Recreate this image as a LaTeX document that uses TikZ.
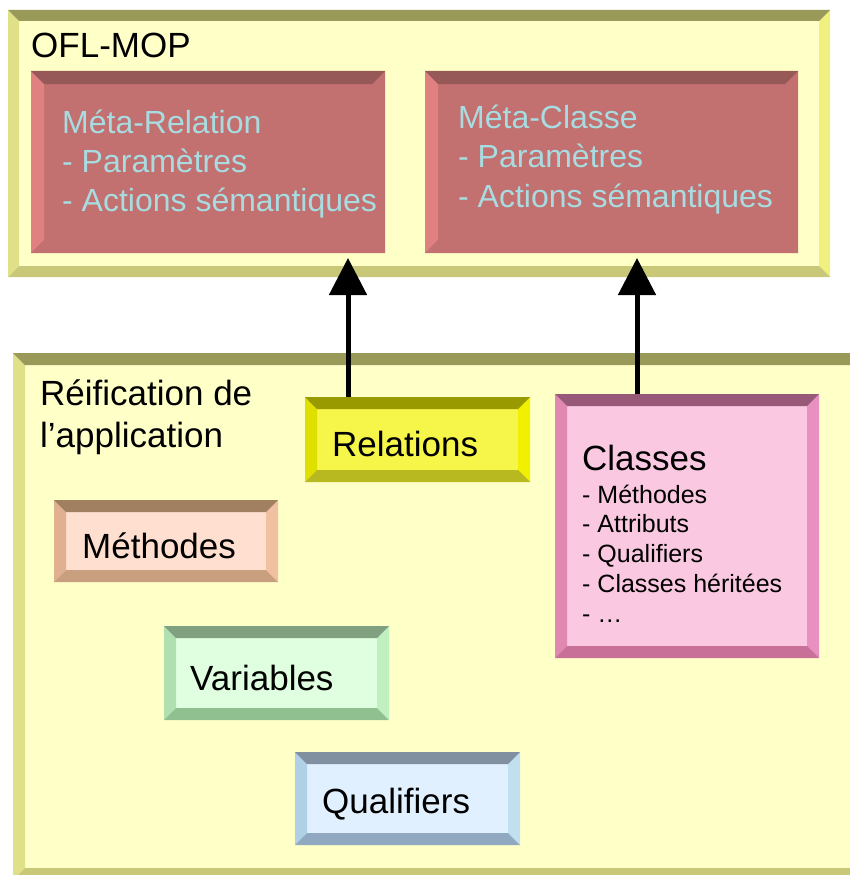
\documentclass[tikz,border=0pt]{standalone}
\usepackage{fontspec}
\setmainfont{Liberation Sans}
\usetikzlibrary{arrows.meta}

% shades: top, left, face, right, bottom
\definecolor{oflTop}{HTML}{99995A}
\definecolor{oflLeft}{HTML}{E0E088}
\definecolor{oflFace}{HTML}{FFFFC8}
\definecolor{oflRight}{HTML}{F0F080}
\definecolor{oflBot}{HTML}{C8C878}
\definecolor{metaTop}{HTML}{975858}
\definecolor{metaLeft}{HTML}{E08080}
\definecolor{metaFace}{HTML}{C27070}
\definecolor{metaText}{HTML}{A8DCE0}
\definecolor{relTop}{HTML}{999900}
\definecolor{relLeft}{HTML}{E0E000}
\definecolor{relFace}{HTML}{F5F54A}
\definecolor{relRight}{HTML}{F0F000}
\definecolor{relBot}{HTML}{B8B820}
\definecolor{clsTop}{HTML}{985878}
\definecolor{clsLeft}{HTML}{E088B0}
\definecolor{clsFace}{HTML}{FAC8E0}
\definecolor{clsRight}{HTML}{E890C0}
\definecolor{clsBot}{HTML}{C87098}
\definecolor{methTop}{HTML}{A08060}
\definecolor{methLeft}{HTML}{E0B090}
\definecolor{methFace}{HTML}{FFE0D0}
\definecolor{methRight}{HTML}{F0C0A0}
\definecolor{methBot}{HTML}{C8A080}
\definecolor{varTop}{HTML}{80A080}
\definecolor{varLeft}{HTML}{B0E0B0}
\definecolor{varFace}{HTML}{E0FFE0}
\definecolor{varRight}{HTML}{C0F0C0}
\definecolor{varBot}{HTML}{90C090}
\definecolor{qualTop}{HTML}{8090A0}
\definecolor{qualLeft}{HTML}{B0D0E8}
\definecolor{qualFace}{HTML}{E0F0FF}
\definecolor{qualRight}{HTML}{C0E0F0}
\definecolor{qualBot}{HTML}{90A8C0}

% bevel round a named box: name, depth, top, left, right, bottom
\newcommand{\bevel}[6]{%
  \fill[#4] (#1.north west) -- ([shift={(#2,#2)}]#1.north west)
    -- ([shift={(#2,-#2)}]#1.south west) -- (#1.south west) -- cycle;
  \fill[#5] (#1.north east) -- ([shift={(-#2,#2)}]#1.north east)
    -- ([shift={(-#2,-#2)}]#1.south east) -- (#1.south east) -- cycle;
  \fill[#3] (#1.north west) -- (#1.north east)
    -- ([shift={(-#2,#2)}]#1.north east) -- ([shift={(#2,#2)}]#1.north west) -- cycle;
  \fill[#6] (#1.south west) -- (#1.south east)
    -- ([shift={(-#2,-#2)}]#1.south east) -- ([shift={(#2,-#2)}]#1.south west) -- cycle;
}

\begin{document}
\begin{tikzpicture}[x=1pt, y=-1pt,
    panel/.style={inner sep=0pt, outer sep=0pt},
    label/.style={anchor=base west, inner sep=0pt, font=\fontsize{35}{42}\selectfont},
    metatext/.style={label, text=metaText, font=\fontsize{32}{39}\selectfont},
    listtext/.style={label, font=\fontsize{25}{30}\selectfont},
    flow/.style={line width=5pt, -{Triangle[width=37pt,length=37pt]}}]
    \useasboundingbox (0,0) rectangle (850,875);
    \clip (0,0) rectangle (850,875);
    % OFL-MOP layer
    \node[panel, fill=oflFace, minimum width=822, minimum height=267] (ofl) at (419,143.5) {};
    \bevel{ofl}{11}{oflTop}{oflLeft}{oflRight}{oflBot}
    \node[label] (ofltitle) at (31,57) {OFL-MOP};
    \node[panel, fill=metaFace, minimum width=354, minimum height=182] (metarel) at (208,162) {};
    \bevel{metarel}{13}{metaTop}{metaLeft}{metaFace}{metaFace}
    \foreach \txt [count=\i] in {Méta-Relation, - Paramètres, - Actions sémantiques}{
      \node[metatext] (metarel-\i) at (62,{133+39*(\i-1)}) {\txt};
    }
    \node[panel, fill=metaFace, minimum width=373, minimum height=182] (metacls) at (611.5,162) {};
    \bevel{metacls}{13}{metaTop}{metaLeft}{metaFace}{metaFace}
    \foreach \txt [count=\i] in {Méta-Classe, - Paramètres, - Actions sémantiques}{
      \node[metatext] (metacls-\i) at (458,{128+39.5*(\i-1)}) {\txt};
    }
    % reified application layer
    \node[panel, fill=oflFace, minimum width=852, minimum height=527] (reif) at (439,616.5) {};
    \bevel{reif}{12}{oflTop}{oflLeft}{oflRight}{oflBot}
    \node[label] (reiftitle) at (40,405) {Réification de};
    \node[label] (reiftitle2) at (40,447) {l’application};
    \node[panel, fill=relFace, minimum width=225, minimum height=85] (relations) at (417.5,439.5) {};
    \bevel{relations}{12}{relTop}{relLeft}{relRight}{relBot}
    \node[label] (relations-txt) at (332,456) {Relations};
    \node[panel, fill=clsFace, minimum width=264, minimum height=264] (classes) at (687,526) {};
    \bevel{classes}{12}{clsTop}{clsLeft}{clsRight}{clsBot}
    \node[label] (classes-txt) at (582,470) {Classes};
    \foreach \txt [count=\i] in {- Méthodes, - Attributs, - Qualifiers, - Classes héritées, - \ldots}{
      \node[listtext] (classes-\i) at (582,{503+29.75*(\i-1)}) {\txt};
    }
    \node[panel, fill=methFace, minimum width=224, minimum height=82] (methodes) at (166,541) {};
    \bevel{methodes}{12}{methTop}{methLeft}{methRight}{methBot}
    \node[label] (methodes-txt) at (82,558) {Méthodes};
    \node[panel, fill=varFace, minimum width=225, minimum height=94] (variables) at (276.5,673) {};
    \bevel{variables}{12}{varTop}{varLeft}{varRight}{varBot}
    \node[label] (variables-txt) at (190,690) {Variables};
    \node[panel, fill=qualFace, minimum width=225, minimum height=93] (qualifiers) at (407.5,798.5) {};
    \bevel{qualifiers}{12}{qualTop}{qualLeft}{qualRight}{qualBot}
    \node[label] (qualifiers-txt) at (322,813) {Qualifiers};
    % reification arrows
    \coordinate (relTip) at (348,258);
    \coordinate (clsTip) at (637,258);
    \draw[flow] (relations.north -| relTip) -- (relTip);
    \draw[flow] (classes.north -| clsTip) -- (clsTip);
\end{tikzpicture}
\end{document}
